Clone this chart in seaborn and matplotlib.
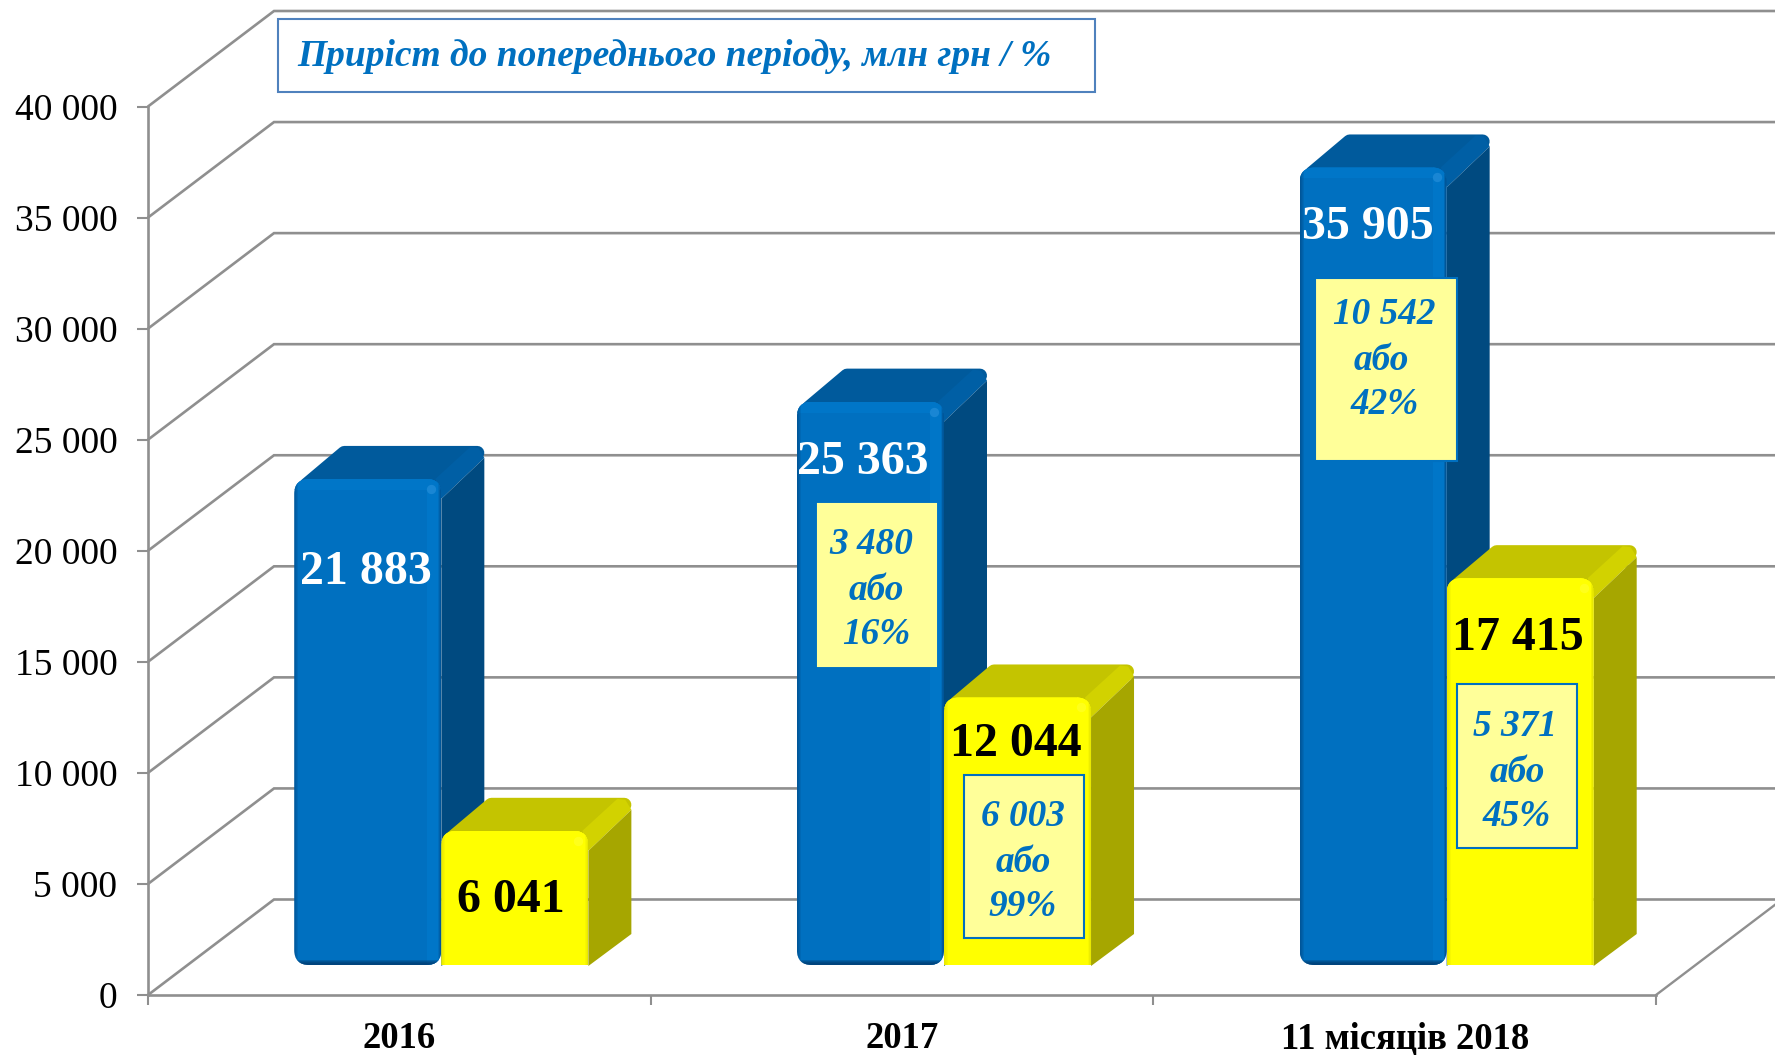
import numpy as np
import pandas as pd
import matplotlib
matplotlib.use("Agg")
import matplotlib.pyplot as plt
import seaborn as sns
from matplotlib.patches import FancyBboxPatch, Polygon, Rectangle

categories = ["2016", "2017", "11 місяців 2018"]
blue_values = [21883, 25363, 35905]
yellow_values = [6041, 12044, 17415]
y_ticks = [0, 5000, 10000, 15000, 20000, 25000, 30000, 35000, 40000]
y_tick_labels = ["0", "5 000", "10 000", "15 000", "20 000", "25 000", "30 000", "35 000", "40 000"]
title_text = "Приріст до попереднього періоду, млн грн / %"
blue_labels = ["21 883", "25 363", "35 905"]
yellow_labels = ["6 041", "12 044", "17 415"]

W, H = 1775, 1055
sns.set_style("white")
plt.rcParams["font.family"] = ["Liberation Serif", "DejaVu Serif"]

GREY = "#8f8f8f"
NOTE_BLUE = "#0070C0"
# px -> data units
PX = 3.0 / 1508
PY = 40000 / 888.5
ASPECT = PY / PX


def fx(p):
    return p / W


def fy(p):
    return 1 - p / H


fig = plt.figure(figsize=(W / 100, H / 100), dpi=100, facecolor="white")
ax = fig.add_axes([fx(148), fy(995), 1508 / W, 888.5 / H])
bar_ax = fig.add_axes([fx(148 + 42), fy(995 - 30), 1508 / W, 888.5 / H], zorder=1)

# walls
ax.set_xlim(-0.5, 2.5)
ax.set_ylim(0, 40000)
depth_x = 126 * PX
depth_y = 95.5 * PY
right_edge = -0.5 + (W - 148) * PX
for v in y_ticks:
    ax.plot([-0.5, -0.5 + depth_x, right_edge], [v, v + depth_y, v + depth_y],
            color=GREY, lw=1.9, clip_on=False, solid_joinstyle="miter")
ax.plot([2.5, 2.5 + depth_x], [0, depth_y], color=GREY, lw=1.7, clip_on=False)

sns.despine(ax=ax)
for s in ["left", "bottom"]:
    ax.spines[s].set_color(GREY)
    ax.spines[s].set_linewidth(1.9)
ax.set_yticks(y_ticks)
ax.set_yticklabels(y_tick_labels, fontsize=27)
ax.set_xticks([0, 1, 2])
ax.set_xticklabels(categories, fontsize=26.4, fontweight="bold")
ax.set_xticks([-0.5, 0.5, 1.5, 2.5], minor=True)
ax.tick_params(axis="y", length=8, width=1.5, color=GREY, pad=14, left=True, labelcolor="black")
ax.tick_params(axis="x", which="major", length=0, pad=19, labelcolor="black")
ax.tick_params(axis="x", which="minor", length=7, width=1.5, color=GREY, bottom=True)
ax.set_xlabel("")
ax.set_ylabel("")

# front faces
df = pd.DataFrame({
    "category": categories * 2,
    "value": blue_values + yellow_values,
    "series": ["blue"] * 3 + ["yellow"] * 3,
})
sns.barplot(data=df, x="category", y="value", hue="series", order=categories,
            palette={"blue": "#0070C0", "yellow": "#FFFF00"}, saturation=1,
            width=0.585, legend=False, ax=bar_ax)
bar_ax.set_xlim(-0.5, 2.5)
bar_ax.set_ylim(0, 40000)
bar_ax.axis("off")
bar_ax.patch.set_alpha(0)

blue_style = dict(top="#005A9C", strip="#005FA5", side="#004A80", light="#0076C8",
                  spot="#2E95DE", dark="#00386A")
yellow_style = dict(top="#C4C400", strip="#D2D200", side="#A6A600", light="#FFFF00",
                    spot="#FFFF33", dark="#D0D000")


def draw_bar(rect, st, base_z, rounded_bottom):
    x, w, h = rect.get_x(), rect.get_width(), rect.get_height()
    dx, dy = 43 * PX, 33 * PY
    top = h
    top_b = h + dy
    # top face, round join gives the soft corners
    r = 7
    bar_ax.add_patch(Polygon(
        [(x + 12 * PX, top - 6 * PY), (x + dx + 7 * PX, top_b - r * PY),
         (x + w + dx - r * PX, top_b - r * PY), (x + w, top - 6 * PY)],
        facecolor=st["top"], edgecolor=st["top"], lw=2 * r * 0.72, joinstyle="round",
        clip_on=False, zorder=base_z))
    # lit diagonal edge between top and side
    bar_ax.add_patch(Polygon(
        [(x + w - 6 * PX, top), (x + w + dx - 14 * PX, top_b - 1 * PY),
         (x + w + dx - 6 * PX, top_b - 2 * PY), (x + w + dx, top_b - 12 * PY), (x + w, top - 20 * PY)],
        facecolor=st["strip"], edgecolor="none", clip_on=False, zorder=base_z + 0.1))
    # side face
    bar_ax.add_patch(Polygon(
        [(x + w, top - 20 * PY), (x + w + dx, top_b - 12 * PY), (x + w + dx, dy - 2 * PY), (x + w, -1 * PY)],
        facecolor=st["side"], edgecolor="none", clip_on=False, zorder=base_z + 0.2))

    # front face, seaborn bar clipped to a rounded outline
    low = 0 if rounded_bottom else -30 * PY
    clip = FancyBboxPatch((x, low), w, h - low,
                          boxstyle=f"round,pad=0,rounding_size={15 * PX}",
                          mutation_aspect=ASPECT, transform=bar_ax.transData)
    rect.set_zorder(base_z + 0.3)
    rect.set_linewidth(0)
    rect.set_clip_path(clip)

    strips = [
        (x + w - 14 * PX, 0, 12 * PX, h, st["light"], 1),
        (x, h - 11 * PY, w, 11 * PY, st["light"], 1),
    ]
    # dark fades on left/right/bottom edges
    for i in range(4):
        strips.append((x, 0, (4 - i) * PX, h, st["dark"], 0.13))
        strips.append((x + w - (3 - i * 0.6) * PX, 0, (3 - i * 0.6) * PX, h, st["dark"], 0.13))
        if rounded_bottom:
            strips.append((x, 0, w, (5 - i) * PY, st["dark"], 0.3))
    for sx, sy, sw, sh, col, a in strips:
        s = Rectangle((sx, sy), sw, sh, facecolor=col, edgecolor="none", alpha=a, zorder=base_z + 0.4)
        bar_ax.add_patch(s)
        s.set_clip_path(clip)
    # small highlight near the top right corner
    bar_ax.scatter([x + w - 10 * PX], [h - 10 * PY], s=45, color=st["spot"], alpha=0.55,
                   linewidths=0, zorder=base_z + 0.5)


rects = list(bar_ax.patches)
for rect in rects[:3]:
    draw_bar(rect, blue_style, 2, True)
for rect in rects[3:6]:
    draw_bar(rect, yellow_style, 5, False)


def note_box(x0, y0, x1, y1, edge, lines):
    fig.add_artist(Rectangle((fx(x0), fy(y1)), (x1 - x0) / W, (y1 - y0) / H, transform=fig.transFigure,
                             facecolor="#FFFF99", edgecolor=edge, lw=1.5, zorder=5))
    for txt, px_, py_ in lines:
        fig.text(fx(px_), fy(py_ + 3), txt, ha="center", va="center", fontsize=26.8, color=NOTE_BLUE,
                 fontweight="bold", fontstyle="italic", zorder=6)


note_box(818, 504, 936, 666, "#FFFF99", [("3 480", 871, 541), ("або", 876, 587), ("16%", 876, 632)])
note_box(964, 775, 1084, 938, NOTE_BLUE, [("6 003", 1023, 814), ("або", 1023, 860), ("99%", 1023, 904)])
note_box(1315, 278, 1457, 461, NOTE_BLUE, [("10 542", 1384, 311), ("або", 1381, 357), ("42%", 1385, 401)])
note_box(1457, 684, 1577, 848, NOTE_BLUE, [("5 371", 1515, 723), ("або", 1517, 769), ("45%", 1517, 813)])

# value labels on bars
for txt, px_, py_ in zip(blue_labels, [366, 863, 1368], [572, 462, 227]):
    fig.text(fx(px_), fy(py_), txt, ha="center", va="center", fontsize=34.5, color="white",
             fontweight="bold", zorder=6)
for txt, px_, py_ in zip(yellow_labels, [511, 1016, 1518], [900, 744, 638]):
    fig.text(fx(px_), fy(py_), txt, ha="center", va="center", fontsize=34.5, color="black",
             fontweight="bold", zorder=6)

# heading box
fig.add_artist(Rectangle((fx(278), fy(92)), (1095 - 278) / W, (92 - 19) / H, transform=fig.transFigure,
                         facecolor="white", edgecolor="#4F81BD", lw=1.5, zorder=5))
fig.text(fx(297), fy(57), title_text, ha="left", va="center", fontsize=27, color=NOTE_BLUE,
         fontweight="bold", fontstyle="italic", zorder=6)

fig.savefig("out.png", dpi=100)
